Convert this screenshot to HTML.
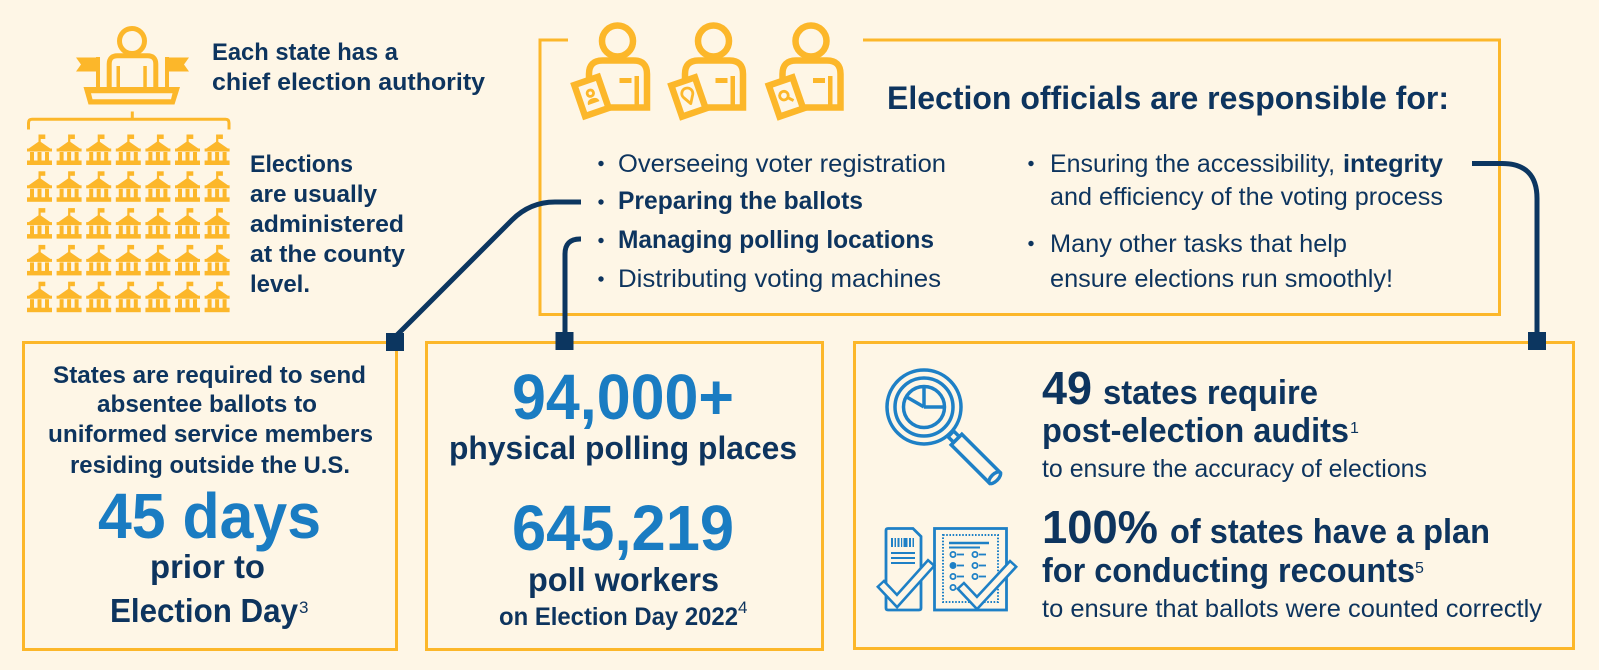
<!DOCTYPE html>
<html>
<head>
<meta charset="utf-8">
<style>
  html,body{margin:0;padding:0;background:#fef6e6;}
  svg{display:block;}
  text{font-family:"Liberation Sans", sans-serif;}
</style>
</head>
<body>
<svg width="1599" height="670" viewBox="0 0 1599 670" xmlns="http://www.w3.org/2000/svg">
  <rect x="0" y="0" width="1599" height="670" fill="#fef6e6"/>
  <defs>
    <g id="bld" fill="#fcb72a">
      <rect x="11.5" y="0" width="2.2" height="8"/>
      <rect x="13.5" y="0" width="4.8" height="4.5"/>
      <polygon points="1,14.5 12.5,6.5 24,14.5"/>
      <rect x="0" y="14" width="25" height="3"/>
      <rect x="3" y="17.5" width="4" height="9"/>
      <rect x="10.5" y="17.5" width="4" height="9"/>
      <rect x="18" y="17.5" width="4" height="9"/>
      <rect x="0" y="26" width="25" height="4.5"/>
    </g>
    <g id="person" fill="none" stroke="#fcb72a" stroke-width="6.5">
      <circle cx="0" cy="41" r="15.5"/>
      <path d="M-28.5 107.5 L-28.5 74 Q-28.5 60.5 -15 60.5 L16 60.5 Q29.5 60.5 29.5 74 L29.5 107.5 Z"/>
      <rect x="2" y="78" width="12" height="5" fill="#fcb72a" stroke="none"/>
      <rect x="17" y="76" width="4.5" height="32" fill="#fcb72a" stroke="none"/>
    </g>
  </defs>

  <!-- ===== Top-left: podium icon ===== -->
  <g fill="#fcb72a" stroke="none">
    <circle cx="132" cy="41" r="12.5" fill="none" stroke="#fcb72a" stroke-width="5"/>
    <path d="M109.2 88 L109.2 64 Q109.2 55.8 117.5 55.8 L147.5 55.8 Q155.8 55.8 155.8 64 L155.8 88" fill="none" stroke="#fcb72a" stroke-width="5"/>
    <rect x="116.5" y="66" width="3.5" height="22"/>
    <rect x="143.3" y="66" width="3.5" height="22"/>
    <rect x="96" y="57" width="4" height="31"/>
    <polygon points="76,57.5 96,57.5 96,71.5 76,71.5 81,64.5"/>
    <rect x="165" y="57" width="4" height="31"/>
    <polygon points="169,57.5 189,57.5 184,64.5 189,71.5 169,71.5"/>
    <polygon points="83.5,87 180,87 174.5,104.5 88.5,104.5"/>
    <polygon points="91,93.3 172.5,93.3 171,99.3 92.5,99.3" fill="#fef6e6"/>
  </g>
  <!-- bracket -->
  <path d="M28.5 129.5 L28.5 123 Q28.5 119.3 32 119.3 L225.5 119.3 Q229 119.3 229 123 L229 129.5" fill="none" stroke="#fcb72a" stroke-width="3"/>
  <line x1="132.3" y1="111.5" x2="132.3" y2="119.3" stroke="#fcb72a" stroke-width="3"/>

  <!-- buildings grid 7x5 -->
  <use href="#bld" x="27" y="134.5"/><use href="#bld" x="56.6" y="134.5"/><use href="#bld" x="86.2" y="134.5"/><use href="#bld" x="115.8" y="134.5"/><use href="#bld" x="145.4" y="134.5"/><use href="#bld" x="175" y="134.5"/><use href="#bld" x="204.6" y="134.5"/>
  <use href="#bld" x="27" y="171.3"/><use href="#bld" x="56.6" y="171.3"/><use href="#bld" x="86.2" y="171.3"/><use href="#bld" x="115.8" y="171.3"/><use href="#bld" x="145.4" y="171.3"/><use href="#bld" x="175" y="171.3"/><use href="#bld" x="204.6" y="171.3"/>
  <use href="#bld" x="27" y="208.1"/><use href="#bld" x="56.6" y="208.1"/><use href="#bld" x="86.2" y="208.1"/><use href="#bld" x="115.8" y="208.1"/><use href="#bld" x="145.4" y="208.1"/><use href="#bld" x="175" y="208.1"/><use href="#bld" x="204.6" y="208.1"/>
  <use href="#bld" x="27" y="244.9"/><use href="#bld" x="56.6" y="244.9"/><use href="#bld" x="86.2" y="244.9"/><use href="#bld" x="115.8" y="244.9"/><use href="#bld" x="145.4" y="244.9"/><use href="#bld" x="175" y="244.9"/><use href="#bld" x="204.6" y="244.9"/>
  <use href="#bld" x="27" y="281.7"/><use href="#bld" x="56.6" y="281.7"/><use href="#bld" x="86.2" y="281.7"/><use href="#bld" x="115.8" y="281.7"/><use href="#bld" x="145.4" y="281.7"/><use href="#bld" x="175" y="281.7"/><use href="#bld" x="204.6" y="281.7"/>

  <!-- top-left texts -->
  <g fill="#0d345e" font-weight="700" font-size="24">
    <text x="212" y="60" textLength="186" lengthAdjust="spacingAndGlyphs">Each state has a</text>
    <text x="212" y="90" textLength="273" lengthAdjust="spacingAndGlyphs">chief election authority</text>
    <text x="250" y="172" textLength="103" lengthAdjust="spacingAndGlyphs">Elections</text>
    <text x="250" y="202" textLength="127" lengthAdjust="spacingAndGlyphs">are usually</text>
    <text x="250" y="232" textLength="154" lengthAdjust="spacingAndGlyphs">administered</text>
    <text x="250" y="262" textLength="155" lengthAdjust="spacingAndGlyphs">at the county</text>
    <text x="250" y="292" textLength="60" lengthAdjust="spacingAndGlyphs">level.</text>
  </g>

  <!-- ===== Top box ===== -->
  <path d="M568 40 L540 40 L540 314.5 L1499.5 314.5 L1499.5 40 L863 40" fill="none" stroke="#fcb72a" stroke-width="3"/>

  <!-- officials icons -->
  <g transform="translate(617.5,0)">
    <use href="#person"/>
    <g transform="translate(-26,96.5) rotate(-19)">
      <rect x="-12.5" y="-16.5" width="25" height="33" fill="#fef6e6" stroke="#fcb72a" stroke-width="6.5"/>
      <circle cx="0" cy="-3.5" r="3.2" fill="none" stroke="#fcb72a" stroke-width="2.8"/>
      <path d="M-6 7 Q-6 2 0 2 Q6 2 6 7 Z" fill="#fcb72a"/>
    </g>
  </g>
  <g transform="translate(713.5,0)">
    <use href="#person"/>
    <g transform="translate(-25,97) rotate(-19)">
      <rect x="-12.5" y="-16.5" width="25" height="33" fill="#fef6e6" stroke="#fcb72a" stroke-width="6.5"/>
      <path d="M0 7 L-4.8 -1 A5.5 5.5 0 1 1 4.8 -1 Z" fill="none" stroke="#fcb72a" stroke-width="2.8" stroke-linejoin="round"/>
    </g>
  </g>
  <g transform="translate(811,0)">
    <use href="#person"/>
    <g transform="translate(-25,97) rotate(-19)">
      <rect x="-12.5" y="-16.5" width="25" height="33" fill="#fef6e6" stroke="#fcb72a" stroke-width="6.5"/>
      <circle cx="-1.5" cy="-2" r="4.3" fill="none" stroke="#fcb72a" stroke-width="2.8"/>
      <line x1="1.8" y1="1.5" x2="6" y2="5.8" stroke="#fcb72a" stroke-width="3"/>
    </g>
  </g>

  <text x="887" y="109" font-size="32" font-weight="700" fill="#0d345e" textLength="562" lengthAdjust="spacingAndGlyphs">Election officials are responsible for:</text>

  <g fill="#0d345e">
    <circle cx="601" cy="163.5" r="2.7"/>
    <circle cx="601" cy="202" r="2.7"/>
    <circle cx="601" cy="240.5" r="2.7"/>
    <circle cx="601" cy="279" r="2.7"/>
    <circle cx="1031" cy="163.5" r="2.7"/>
    <circle cx="1031" cy="243.5" r="2.7"/>
  </g>
  <g fill="#0d345e" font-size="25">
    <text x="618" y="172" textLength="328" lengthAdjust="spacingAndGlyphs">Overseeing voter registration</text>
    <text x="618" y="209" font-weight="700" textLength="245" lengthAdjust="spacingAndGlyphs">Preparing the ballots</text>
    <text x="618" y="248" font-weight="700" textLength="316" lengthAdjust="spacingAndGlyphs">Managing polling locations</text>
    <text x="618" y="287" textLength="323" lengthAdjust="spacingAndGlyphs">Distributing voting machines</text>
    <text x="1050" y="172" textLength="285" lengthAdjust="spacingAndGlyphs">Ensuring the accessibility,</text>
    <text x="1343" y="172" font-weight="700" textLength="100" lengthAdjust="spacingAndGlyphs">integrity</text>
    <text x="1050" y="205" textLength="393" lengthAdjust="spacingAndGlyphs">and efficiency of the voting process</text>
    <text x="1050" y="252" textLength="297" lengthAdjust="spacingAndGlyphs">Many other tasks that help</text>
    <text x="1050" y="287" textLength="343" lengthAdjust="spacingAndGlyphs">ensure elections run smoothly!</text>
  </g>

  <!-- ===== Bottom boxes ===== -->
  <rect x="23.5" y="342.5" width="373" height="307" fill="none" stroke="#fcb72a" stroke-width="3"/>
  <rect x="426.5" y="342.5" width="396" height="307" fill="none" stroke="#fcb72a" stroke-width="3"/>
  <rect x="854.5" y="342.5" width="719" height="306" fill="none" stroke="#fcb72a" stroke-width="3"/>

  <!-- connectors -->
  <g fill="none" stroke="#0c3660" stroke-width="5">
    <path d="M397 335 L512 220 Q530 202 555 202 L581 202"/>
    <path d="M581 239 L580 239 Q565 239 565 254 L565 340"/>
    <path d="M1472 163.5 L1502 163.5 Q1537 163.5 1537 198.5 L1537 340"/>
  </g>
  <g fill="#0c3660">
    <rect x="386" y="333" width="18" height="18"/>
    <rect x="555.5" y="332" width="18" height="18"/>
    <rect x="1528" y="332" width="18" height="18"/>
  </g>

  <!-- left box text -->
  <g fill="#0d345e" font-weight="700" text-anchor="middle">
    <text x="209.5" y="383" font-size="24" textLength="313" lengthAdjust="spacingAndGlyphs">States are required to send</text>
    <text x="207" y="412" font-size="24" textLength="220" lengthAdjust="spacingAndGlyphs">absentee ballots to</text>
    <text x="210.5" y="442" font-size="24" textLength="325" lengthAdjust="spacingAndGlyphs">uniformed service members</text>
    <text x="210" y="473" font-size="24" textLength="280" lengthAdjust="spacingAndGlyphs">residing outside the U.S.</text>
    <text x="209.5" y="538" font-size="64" fill="#1a7cc2" textLength="223" lengthAdjust="spacingAndGlyphs">45 days</text>
    <text x="207.5" y="578" font-size="33" textLength="115" lengthAdjust="spacingAndGlyphs">prior to</text>
  </g>
  <g fill="#0d345e">
    <text x="110" y="622" font-size="33" font-weight="700" textLength="188" lengthAdjust="spacingAndGlyphs">Election Day</text>
    <text x="299" y="613" font-size="17">3</text>
  </g>

  <!-- middle box text -->
  <g fill="#0d345e" font-weight="700">
    <text x="512" y="419" font-size="64" fill="#1a7cc2" textLength="222" lengthAdjust="spacingAndGlyphs">94,000+</text>
    <text x="449" y="459" font-size="32" textLength="348" lengthAdjust="spacingAndGlyphs">physical polling places</text>
    <text x="512" y="550" font-size="64" fill="#1a7cc2" textLength="222" lengthAdjust="spacingAndGlyphs">645,219</text>
    <text x="528" y="591" font-size="33" textLength="191" lengthAdjust="spacingAndGlyphs">poll workers</text>
    <text x="499" y="625" font-size="25" textLength="239" lengthAdjust="spacingAndGlyphs">on Election Day 2022</text>
  </g>
  <text x="738" y="613" font-size="17" fill="#0d345e">4</text>

  <!-- right box: magnifier icon -->
  <g fill="none" stroke="#1e80c6" stroke-width="3.5">
    <circle cx="924" cy="407" r="37"/>
    <circle cx="924" cy="407" r="29"/>
    <circle cx="924" cy="407" r="20.5"/>
    <line x1="924" y1="407" x2="924" y2="386.5"/>
    <line x1="924" y1="407" x2="944.5" y2="407"/>
    <line x1="924" y1="407" x2="905" y2="396"/>
    <g transform="translate(924,407) rotate(45)">
      <rect x="38" y="-4" width="8" height="8"/>
      <rect x="46" y="-7.5" width="54" height="15" fill="#fef6e6"/>
      <ellipse cx="100" cy="0" rx="3.5" ry="7.5" fill="#fef6e6"/>
    </g>
  </g>

  <!-- right box: ballot icons -->
  <g fill="none" stroke="#1e80c6">
    <path d="M888 528.5 L913 528.5 L921 536.5 L921 608 Q921 610 919 610 L888 610 Q886 610 886 608 L886 530.5 Q886 528.5 888 528.5 Z" stroke-width="2.8"/>
    <g fill="#1e80c6" stroke="none">
      <rect x="891" y="538" width="2" height="9"/>
      <rect x="894.5" y="538" width="1.5" height="9"/>
      <rect x="897.5" y="538" width="2" height="9"/>
      <rect x="901" y="538" width="1.2" height="9"/>
      <rect x="903.5" y="538" width="4" height="9"/>
      <rect x="909" y="538" width="2" height="9"/>
      <rect x="912.5" y="538" width="1.5" height="9"/>
    </g>
    <line x1="891" y1="553" x2="915" y2="553" stroke-width="2"/>
    <line x1="891" y1="558" x2="915" y2="558" stroke-width="2"/>
    <line x1="891" y1="563" x2="915" y2="563" stroke-width="2"/>
    <polyline points="880,583 897,601 932,562" stroke-width="11" stroke-linejoin="miter"/>
    <polyline points="881.7,584.8 897,601 930.3,563.9" stroke="#fef6e6" stroke-width="5.8" stroke-linejoin="miter"/>

    <rect x="934.5" y="528.5" width="72" height="81.5" stroke-width="2.8"/>
    <rect x="943" y="535" width="55" height="67" stroke-width="2" stroke-dasharray="1.6 1.6"/>
    <line x1="949" y1="543" x2="989" y2="543" stroke-width="2.5"/>
    <line x1="949" y1="547.5" x2="980" y2="547.5" stroke-width="2"/>
    <g stroke-width="1.8">
      <circle cx="953" cy="554.5" r="2.6"/><line x1="957" y1="554.5" x2="964" y2="554.5"/>
      <circle cx="975" cy="554.5" r="2.6"/><line x1="979" y1="554.5" x2="986" y2="554.5"/>
      <circle cx="953" cy="565.5" r="2.6" fill="#1e80c6"/><line x1="957" y1="565.5" x2="964" y2="565.5"/>
      <circle cx="975" cy="565.5" r="2.6"/><line x1="979" y1="565.5" x2="986" y2="565.5"/>
      <circle cx="953" cy="576.5" r="2.6"/><line x1="957" y1="576.5" x2="964" y2="576.5"/>
      <circle cx="975" cy="576.5" r="2.6"/><line x1="979" y1="576.5" x2="986" y2="576.5"/>
      <circle cx="953" cy="587.5" r="2.6"/>
    </g>
    <polyline points="960,585 977,603 1014,563" stroke-width="11" stroke-linejoin="miter"/>
    <polyline points="961.7,586.8 977,603 1012.3,564.8" stroke="#fef6e6" stroke-width="5.8" stroke-linejoin="miter"/>
  </g>

  <!-- right box text -->
  <g fill="#0d345e">
    <text x="1042" y="404" font-size="46" font-weight="700" textLength="50" lengthAdjust="spacingAndGlyphs">49</text>
    <text x="1103" y="404" font-size="34" font-weight="700" textLength="215" lengthAdjust="spacingAndGlyphs">states require</text>
    <text x="1042" y="442" font-size="34" font-weight="700" textLength="307" lengthAdjust="spacingAndGlyphs">post-election audits</text>
    <text x="1350" y="433" font-size="16">1</text>
    <text x="1042" y="477" font-size="25" textLength="385" lengthAdjust="spacingAndGlyphs">to ensure the accuracy of elections</text>
    <text x="1042" y="543" font-size="46" font-weight="700" textLength="116" lengthAdjust="spacingAndGlyphs">100%</text>
    <text x="1170" y="543" font-size="34" font-weight="700" textLength="320" lengthAdjust="spacingAndGlyphs">of states have a plan</text>
    <text x="1042" y="582" font-size="34" font-weight="700" textLength="373" lengthAdjust="spacingAndGlyphs">for conducting recounts</text>
    <text x="1415" y="573" font-size="16">5</text>
    <text x="1042" y="617" font-size="25" textLength="500" lengthAdjust="spacingAndGlyphs">to ensure that ballots were counted correctly</text>
  </g>
</svg>
</body>
</html>
